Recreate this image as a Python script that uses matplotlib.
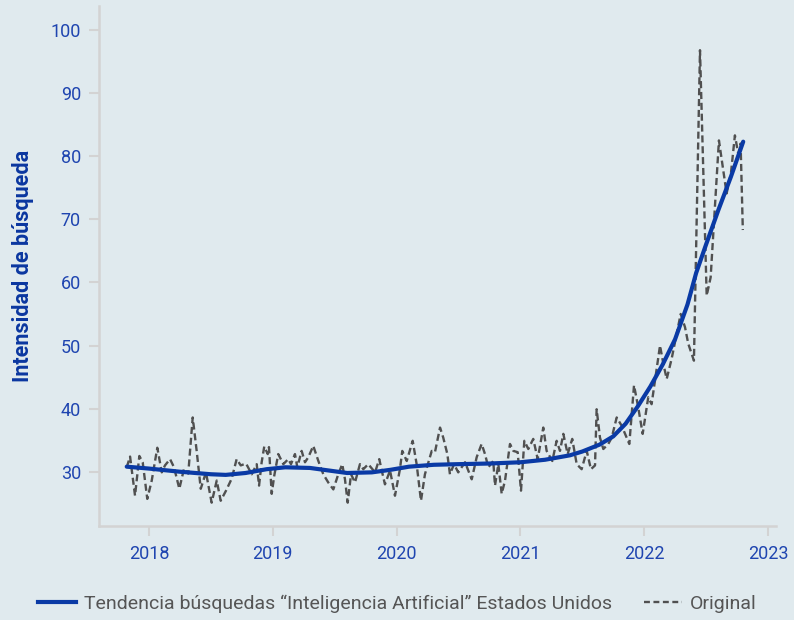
import matplotlib
matplotlib.use("Agg")
import matplotlib.pyplot as plt
from matplotlib.lines import Line2D

# ---- data (decimal years, search intensity) ----
orig_t = [2017.820, 2017.847, 2017.887, 2017.922, 2017.949, 2017.986, 2018.022, 2018.067,
          2018.103, 2018.129, 2018.170, 2018.202, 2018.245, 2018.283, 2018.317, 2018.353,
          2018.385, 2018.418, 2018.460, 2018.506, 2018.547, 2018.579, 2018.622, 2018.668,
          2018.708, 2018.741, 2018.784, 2018.830, 2018.870, 2018.889, 2018.910, 2018.931,
          2018.959, 2018.969, 2018.991, 2019.012, 2019.044, 2019.085, 2019.125, 2019.147,
          2019.179, 2019.198, 2019.233, 2019.260, 2019.287, 2019.327, 2019.368, 2019.408,
          2019.448, 2019.489, 2019.529, 2019.561, 2019.583, 2019.605, 2019.632, 2019.664,
          2019.704, 2019.731, 2019.771, 2019.826, 2019.860, 2019.880, 2019.906, 2019.947,
          2019.987, 2020.027, 2020.046, 2020.082, 2020.130, 2020.162, 2020.197, 2020.229,
          2020.284, 2020.310, 2020.351, 2020.377, 2020.410, 2020.431, 2020.464, 2020.498,
          2020.553, 2020.607, 2020.647, 2020.687, 2020.714, 2020.741, 2020.781, 2020.795,
          2020.822, 2020.849, 2020.876, 2020.916, 2020.943, 2020.978, 2021.005, 2021.032,
          2021.064, 2021.104, 2021.140, 2021.185, 2021.212, 2021.258, 2021.293, 2021.320,
          2021.347, 2021.382, 2021.419, 2021.455, 2021.495, 2021.536, 2021.570, 2021.603,
          2021.616, 2021.643, 2021.670, 2021.710, 2021.738, 2021.778, 2021.818, 2021.880,
          2021.918, 2021.952, 2021.988, 2022.033, 2022.060, 2022.128, 2022.155, 2022.182,
          2022.222, 2022.263, 2022.295, 2022.330, 2022.356, 2022.402, 2022.451, 2022.505,
          2022.537, 2022.604, 2022.639, 2022.666, 2022.701, 2022.733, 2022.760, 2022.779,
          2022.797]
orig_v = [30.7, 32.4, 26.2, 32.5, 31.5, 25.7, 28.6, 33.8,
          29.9, 31.0, 32.0, 30.7, 27.3, 30.5, 29.7, 38.6,
          33.3, 27.3, 29.9, 25.1, 28.6, 25.4, 27.0, 28.9,
          32.0, 31.0, 31.3, 29.6, 31.2, 27.8, 31.5, 34.0,
          32.8, 33.9, 26.5, 29.4, 32.8, 31.2, 32.0, 31.2,
          32.8, 30.7, 33.3, 31.5, 32.3, 34.1, 31.7, 29.6,
          28.3, 27.2, 29.6, 31.2, 28.8, 25.1, 29.6, 28.3,
          31.2, 30.4, 31.2, 29.9, 32.0, 30.2, 28.0, 30.2,
          26.2, 30.4, 33.3, 31.7, 34.9, 31.2, 25.4, 29.6,
          33.3, 33.1, 37.0, 35.4, 32.8, 29.6, 31.2, 29.9,
          31.5, 28.8, 32.3, 34.4, 32.8, 30.7, 31.7, 27.8,
          31.2, 26.5, 28.6, 34.4, 33.3, 33.1, 27.0, 34.9,
          33.6, 35.2, 32.0, 37.0, 33.3, 31.7, 34.9, 33.3,
          36.0, 32.8, 35.2, 31.2, 30.4, 33.3, 30.4, 31.0,
          39.9, 35.4, 33.6, 34.4, 35.4, 38.6, 37.3, 34.4,
          43.7, 40.2, 36.0, 41.8, 40.7, 50.0, 47.1, 44.7,
          47.9, 51.9, 55.0, 52.9, 50.3, 47.6, 96.8, 57.9,
          60.8, 82.5, 77.8, 74.1, 77.3, 83.3, 80.4, 82.0,
          68.3]

trend_t = [2017.82, 2018.00, 2018.25, 2018.50, 2018.62, 2018.78, 2018.95, 2019.10,
           2019.30, 2019.45, 2019.60, 2019.80, 2019.95, 2020.10, 2020.30, 2020.50,
           2020.75, 2021.00, 2021.20, 2021.40, 2021.50, 2021.64, 2021.75, 2021.85,
           2021.95, 2022.05, 2022.15, 2022.25, 2022.35, 2022.42, 2022.50, 2022.60,
           2022.70, 2022.80]
trend_v = [30.8, 30.5, 30.0, 29.6, 29.5, 29.8, 30.4, 30.7,
           30.6, 30.2, 29.8, 29.9, 30.3, 30.8, 31.1, 31.2,
           31.3, 31.5, 31.9, 32.6, 33.2, 34.3, 35.6, 37.6,
           40.4, 43.5, 47.0, 51.0, 56.5, 61.5, 66.0, 71.5,
           76.7, 82.3]

x_ticks = [2018, 2019, 2020, 2021, 2022, 2023]
y_ticks = [30, 40, 50, 60, 70, 80, 90, 100]

trend_label = "Tendencia búsquedas \u201cInteligencia Artificial\u201d Estados Unidos"
orig_label = "Original"
y_label = "Intensidad de búsqueda"

BG = "#e0eaee"
TREND_C = "#0a3aa5"
ORIG_C = "#505050"
TICK_C = "#1f45b0"
SPINE_C = "#d3d3d3"

plt.rcParams['font.family'] = ['Roboto', 'DejaVu Sans']

fig = plt.figure(figsize=(7.94, 6.2), dpi=100, facecolor=BG)
ax = fig.add_axes([99/794, 1-526/620, (776-99)/794, (526-6)/620])
ax.set_facecolor(BG)

ax.plot(orig_t, orig_v, color=ORIG_C, lw=1.7, linestyle=(0, (3, 1.6)), zorder=2)
ax.plot(trend_t, trend_v, color=TREND_C, lw=3.0, solid_capstyle='round', zorder=3)

ax.set_xlim(2017.596, 2023.065)
ax.set_ylim(21.4, 103.8)
ax.set_xticks(x_ticks)
ax.set_xticklabels([str(v) for v in x_ticks])
ax.set_yticks(y_ticks)

for s in ['top', 'right']:
    ax.spines[s].set_visible(False)
for s in ['left', 'bottom']:
    ax.spines[s].set_color(SPINE_C)
    ax.spines[s].set_linewidth(1.8)

ax.tick_params(axis='both', colors=SPINE_C, length=7, width=1.5, labelsize=13,
               labelcolor=TICK_C)
ax.tick_params(axis='y', pad=6)
ax.tick_params(axis='x', pad=7)

ax.set_ylabel(y_label, color="#0a36a0", fontsize=15.5, fontweight='bold', labelpad=12)

handles = [Line2D([], [], color=TREND_C, lw=3.0),
           Line2D([], [], color=ORIG_C, lw=1.7, linestyle=(0, (2.5, 1.5)))]
fig.legend(handles, [trend_label, orig_label], loc='center', bbox_to_anchor=(0.5, 1-604/620),
           ncol=2, frameon=False, fontsize=14, labelcolor='#555555',
           handlelength=1.95, columnspacing=1.65, handletextpad=0.4)

fig.savefig("out.png", dpi=100, facecolor=BG)
